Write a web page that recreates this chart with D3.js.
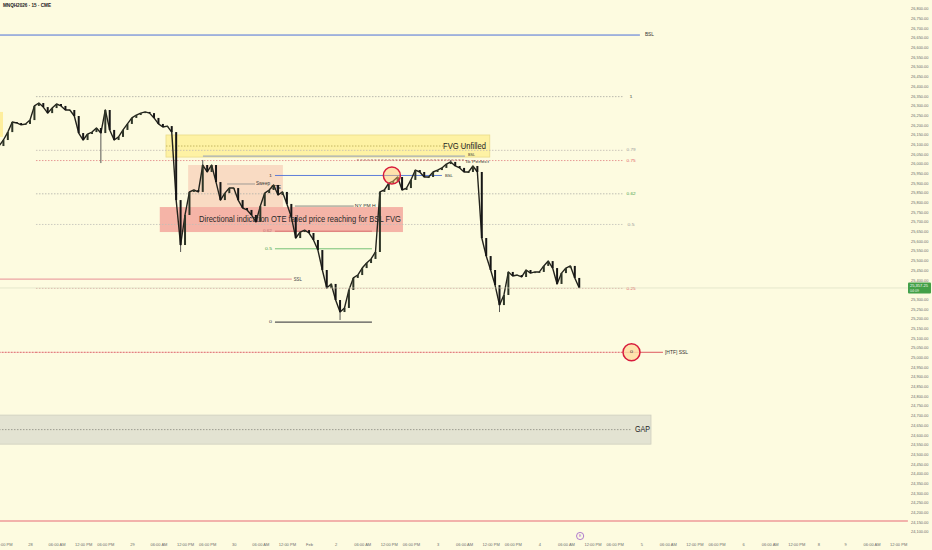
<!DOCTYPE html>
<html>
<head>
<meta charset="utf-8">
<script src="https://cdn.jsdelivr.net/npm/d3@7/dist/d3.min.js"></script>
<style>
    html, body { margin: 0; padding: 0; background: #fdfbe0; }
    svg { display: block; font-family: "Liberation Sans", "DejaVu Sans", sans-serif; }
</style>
</head>
<body>
<svg id="chart" width="932" height="550"></svg>
<script>
// MNQH2026 15m chart with ICT style markup (hourly closes)

// trading hours counted from Wed Jan 28 00:00, the 17:00-18:00 break and the weekend removed
const candleStartHour = -7;
const closes = [
    26090, 26121, 26162, 26214, 26209, 26199, 26204, 26224, 26297, 26312,
    26291, 26260, 26286, 26307, 26297, 26276, 26276, 26245, 26157, 26121,
    26152, 26162, 26183, 26157, 26276, 26173, 26121, 26137, 26173, 26204,
    26235, 26250, 26260, 26266, 26260, 26235, 26204, 26188, 26193, 26162,
    25811, 25579, 25734, 25853, 25863, 25853, 25992, 25956, 25992, 25904,
    25811, 25847, 25873, 25873, 25811, 25770, 25760, 25734, 25698, 25780,
    25847, 25863, 25889, 25837, 25853, 25791, 25724, 25615, 25646, 25656,
    25641, 25605, 25553, 25450, 25357, 25378, 25295, 25233, 25254, 25347,
    25409, 25424, 25460, 25486, 25507, 25543, 25853, 25863, 25899, 25909,
    25930, 25863, 25873, 25915, 25966, 25956, 25930, 25930, 25956, 25966,
    25977, 25997, 26008, 25987, 25977, 25956, 25956, 25987, 25956, 25615,
    25522, 25450, 25372, 25269, 25321, 25440, 25419, 25424, 25414, 25450,
    25434, 25440, 25440, 25471, 25496, 25460, 25378, 25434, 25460, 25471,
    25409, 25357
];
// the longest wicks
const wickHours = [16, 34, 39, 70, 95, 106];
const wickPrices = [26002, 25543, 26018, 25192, 26018, 25233];

const lastPrice = 25357.25;

// time axis
const timeTickHours = [-6, 0, 6, 12, 17, 23, 29, 35, 40, 46, 52, 58, 63, 69, 75, 81, 86, 92,
    98, 104, 109, 115, 121, 127, 132, 138, 144, 150, 155, 161, 167, 173, 178, 184, 190, 196];
const timeTickLabels = ["06:00 PM", "28", "06:00 AM", "12:00 PM", "06:00 PM", "29", "06:00 AM",
    "12:00 PM", "06:00 PM", "30", "06:00 AM", "12:00 PM", "Feb", "2", "06:00 AM", "12:00 PM",
    "06:00 PM", "3", "06:00 AM", "12:00 PM", "06:00 PM", "4", "06:00 AM", "12:00 PM", "06:00 PM",
    "5", "06:00 AM", "12:00 PM", "06:00 PM", "6", "06:00 AM", "12:00 PM", "8", "9", "06:00 AM", "12:00 PM"];

// price axis
const priceTicks = d3.range(24100, 26801, 50);

// big fib (HTF high to HTF SSL)
const fibHigh = 26345;
const fibLow = 25025;
const fibLevels = [1, 0.79, 0.75, 0.62, 0.5, 0.25, 0];
const fibLevelNames = ["1", "0.79", "0.75", "0.62", "0.5", "0.25", "0"];

// small fib on the Feb 2 swing
const smallFibHigh = 25938;
const smallFibLow = 25181;
const smallFibLevels = [1, 0.62, 0.5, 0];
const smallFibNames = ["1", "0.62", "0.5", "0"];

// levels [hour from, hour to, price]
const bslTop = [-7, 137.7, 26663];
const bslUpper = [39.05, 98.2, 26038];
const toPerfect = [73.8, 98.2, 26018];
const sweepLine = [44.5, 50.8, 25894];
const nyPmHigh = [59.8, 73.1, 25780];
const sslLine = [-7, 59.1, 25403];
const htfSsl = [-7, 142.9, 25025];
const bottomLine = [-7, 198.2, 24154];

// zones [hour from, hour to, price low, price high]
const fvgZone = [30.7, 103.8, 26033, 26147];
const edgeZone = [-7, -6.1, 26137, 26266];
const sweepZone = [35.7, 57.1, 25775, 25992];
const oteZone = [29.3, 84.2, 25646, 25775];
const gapZone = [-7, 140.2, 24551, 24701];

const svg = d3.select("#chart");
const x = d3.scaleLinear().domain([0, 184]).range([30, 845]);
const y = d3.scaleLinear().domain([24100, 26800]).range([531.5, 8.5]);

svg.append("rect")
    .attr("width", 932)
    .attr("height", 550)
    .attr("fill", "#fdfbe0");

/**
 * Horizontal line between two hours at one price
 */
function hLine(t0, t1, price, color, width, dash) {
    svg.append("line")
        .attr("x1", x(t0))
        .attr("x2", x(t1))
        .attr("y1", y(price))
        .attr("y2", y(price))
        .attr("stroke", color)
        .attr("stroke-width", width)
        .attr("stroke-dasharray", dash || null);
}

/**
 * Rectangle zone between two hours and two prices
 */
function zone(z, fill, stroke) {
    svg.append("rect")
        .attr("x", x(z[0]))
        .attr("y", y(z[3]))
        .attr("width", x(z[1]) - x(z[0]))
        .attr("height", y(z[2]) - y(z[3]))
        .attr("fill", fill)
        .attr("stroke", stroke || "none")
        .attr("stroke-width", 0.8);
}

/**
 * Text squeezed to a given length, like the narrow TradingView labels
 */
function label(px, py, text, size, len, color, anchor) {
    return svg.append("text")
        .attr("x", px)
        .attr("y", py)
        .attr("font-size", size)
        .attr("fill", color || "#333")
        .attr("text-anchor", anchor || "start")
        .attr("dominant-baseline", "middle")
        .attr("textLength", len)
        .attr("lengthAdjust", "spacingAndGlyphs")
        .text(text);
}

// zones
zone(gapZone, "#e3e3d2", "#cfcfbf");
zone(edgeZone, "rgba(255,225,90,0.5)");
zone(fvgZone, "rgba(255,228,80,0.42)", "#eadb8a");
zone(sweepZone, "rgba(240,160,140,0.35)");
zone(oteZone, "rgba(238,110,110,0.5)");

// big fib levels
const fibColors = ["#a8a8a0", "#c0b8b0", "#e08080", "#b0b0a8", "#c0c0b8", "#d8a8a0", "#d85a5a"];
const fibLabelColors = ["#555", "#999", "#e06060", "#43a047", "#999", "#e06060", "#333"];
hLine(htfSsl[0], htfSsl[1], htfSsl[2], "#f4c4c0", 1);
fibLevels.forEach((lv, i) => {
    const price = fibLow + (fibHigh - fibLow) * lv;
    hLine(1.35, 134, price, fibColors[i], 0.8, "1.5,1.5");
    if (lv !== 0) {
        label(x(135.7), y(price), fibLevelNames[i], 4.2, 2 * fibLevelNames[i].length + 1, fibLabelColors[i], "middle");
    }
});
hLine(-7, 1.35, fibLow, "#d85a5a", 0.8, "1.5,1.5");
hLine(137.7, htfSsl[1], htfSsl[2], "#e06a6a", 1);

// plain levels
hLine(bslTop[0], bslTop[1], bslTop[2], "#4c6fd8", 1);
label(x(bslTop[1]) + 5, y(bslTop[2]), "BSL", 5, 9, "#333");
hLine(bottomLine[0], bottomLine[1], bottomLine[2], "#ee9a9a", 1.6);
hLine(sslLine[0], sslLine[1], sslLine[2], "#eba3a3", 1.3);
label(x(sslLine[1]) + 2, y(sslLine[2]) + 1, "SSL", 5, 8, "#444");
hLine(bslUpper[0], bslUpper[1], bslUpper[2], "#8496c4", 0.9);
hLine(toPerfect[0], toPerfect[1], toPerfect[2], "#9a4a4a", 0.8, "2,1.5");
label(x(bslUpper[1]) + 3, y(bslUpper[2]) - 1, "BSL", 4.2, 7, "#333");
label(x(toPerfect[1]), y(toPerfect[2]) + 1.5, "To Perfect", 4.2, 24, "#333");
hLine(sweepLine[0], sweepLine[1], sweepLine[2], "#8a8a8a", 0.8);
label(x(sweepLine[1]) + 1, y(sweepLine[2]) - 0.5, "Sweep", 5, 14, "#333");
label(x(sweepLine[1]) + 16, y(sweepLine[2]) + 3.5, "OTE", 5, 10, "#333");
hLine(nyPmHigh[0], nyPmHigh[1], nyPmHigh[2], "#6a6a6a", 0.8);
label(x(nyPmHigh[1]) + 1, y(nyPmHigh[2]), "NY PM H", 4.4, 21, "#333");

// small fib
const smallFibColors = ["#4c6fd8", "#d46a6a", "#66bb6a", "#555"];
const smallFibLabelColors = ["#444", "#c07070", "#43a047", "#444"];
const smallFibEnds = [93, 77.2, 77.2, 77.2];
smallFibLevels.forEach((lv, i) => {
    const price = smallFibLow + (smallFibHigh - smallFibLow) * lv;
    hLine(55.3, smallFibEnds[i], price, smallFibColors[i], lv === 0 ? 1.3 : 0.9);
    label(x(55.3) - 3, y(price), smallFibNames[i], 4.2, 2 * smallFibNames[i].length + 1, smallFibLabelColors[i], "end");
});
label(x(smallFibEnds[0]) + 3, y(smallFibHigh) + 0.5, "BSL", 4.4, 8, "#333");

// zone texts
const fvgMid = (fvgZone[2] + fvgZone[3]) / 2;
hLine(fvgZone[0], 99.5, fvgMid, "#b8a850", 0.8, "1.5,1.5");
label(443, y(fvgMid) + 0.5, "FVG Unfilled", 8.5, 43, "#222");
label(199, y((oteZone[2] + oteZone[3]) / 2) + 0.5, "Directional indication OTE failed price reaching for BSL FVG", 8.5, 202, "#2a2a2a");
hLine(gapZone[0], 135.9, (gapZone[2] + gapZone[3]) / 2, "#8a8a80", 0.8, "1.5,1.5");
label(x(136.6), y((gapZone[2] + gapZone[3]) / 2) + 0.5, "GAP", 8.5, 15, "#222");

// price trace under the candles, so the hourly bars read as one dense stream
const trace = d3.line()
    .x((d, i) => x(candleStartHour + i))
    .y((d) => y(d));
svg.append("path")
    .attr("d", trace(closes))
    .attr("fill", "none")
    .attr("stroke", "#23231c")
    .attr("stroke-width", 1.4)
    .attr("stroke-linejoin", "round");

// candles
closes.forEach((c, i) => {
    if (i === 0) return;
    const o = closes[i - 1];
    const t = candleStartHour + i;
    svg.append("rect")
        .attr("x", x(t) - 1)
        .attr("width", 2)
        .attr("y", y(Math.max(o, c)))
        .attr("height", Math.max(1, Math.abs(y(o) - y(c))))
        .attr("fill", c >= o ? "#2e3527" : "#161616");
});
wickHours.forEach((t, i) => {
    const idx = t - candleStartHour;
    const body = wickPrices[i] < closes[idx] ? Math.min(closes[idx], closes[idx - 1]) : Math.max(closes[idx], closes[idx - 1]);
    svg.append("line")
        .attr("x1", x(t))
        .attr("x2", x(t))
        .attr("y1", y(body))
        .attr("y2", y(wickPrices[i]))
        .attr("stroke", "#444")
        .attr("stroke-width", 0.9);
});

// circled spots
[[81.7, smallFibHigh], [135.8, fibLow]].forEach((p) => {
    svg.append("circle")
        .attr("cx", x(p[0]))
        .attr("cy", y(p[1]))
        .attr("r", 8.5)
        .attr("fill", "rgba(255,196,110,0.45)")
        .attr("stroke", "#d81b3c")
        .attr("stroke-width", 1.5);
});
label(x(135.8), y(fibLow), "0", 4.4, 3, "#333", "middle");
label(x(htfSsl[1]) + 2, y(htfSsl[2]), "[HTF] SSL", 5, 23, "#333");

// last price line
hLine(candleStartHour, 198.2, lastPrice, "#d6dcc0", 0.6);

// title
label(3, 6, "MNQH2026 · 15 · CME", 5, 48, "#222").attr("font-weight", "bold");

// price axis, the tick hidden by the last price tag is left out
const fmt = d3.format(",.2f");
const yAxis = svg.append("g")
    .attr("transform", "translate(911,0)")
    .call(d3.axisRight(y)
        .tickValues(priceTicks.filter((p) => Math.abs(y(p) - y(lastPrice)) > 6))
        .tickSize(0).tickPadding(0).tickFormat(fmt));
yAxis.select(".domain").remove();
yAxis.selectAll("text")
    .attr("font-size", 4.2)
    .attr("fill", "#6b6b6b")
    .attr("textLength", 17.5)
    .attr("lengthAdjust", "spacingAndGlyphs");

svg.append("rect")
    .attr("x", 908)
    .attr("y", y(lastPrice) - 5.5)
    .attr("width", 23)
    .attr("height", 11)
    .attr("rx", 1)
    .attr("fill", "#43a047");
label(910, y(lastPrice) - 2.3, fmt(lastPrice), 3.8, 18, "#fff");
label(910, y(lastPrice) + 2.6, "04:09", 3.6, 9, "#e8f5e9");

// time axis
const xAxis = svg.append("g")
    .attr("transform", "translate(0,545)")
    .call(d3.axisBottom(x).tickValues(timeTickHours).tickSize(0).tickPadding(0)
        .tickFormat((d, i) => timeTickLabels[i]));
xAxis.select(".domain").remove();
xAxis.selectAll("text")
    .attr("font-size", 4)
    .attr("fill", "#6b6b6b")
    .attr("dy", "0.3em")
    .attr("y", 0);

// event marker on the time axis
svg.append("circle")
    .attr("cx", x(124.2))
    .attr("cy", 536)
    .attr("r", 3.6)
    .attr("fill", "#fdfbe0")
    .attr("stroke", "#9c5cc8")
    .attr("stroke-width", 0.8);
label(x(124.2), 536.3, "E", 3.6, 2.2, "#9c5cc8", "middle");
</script>
</body>
</html>
